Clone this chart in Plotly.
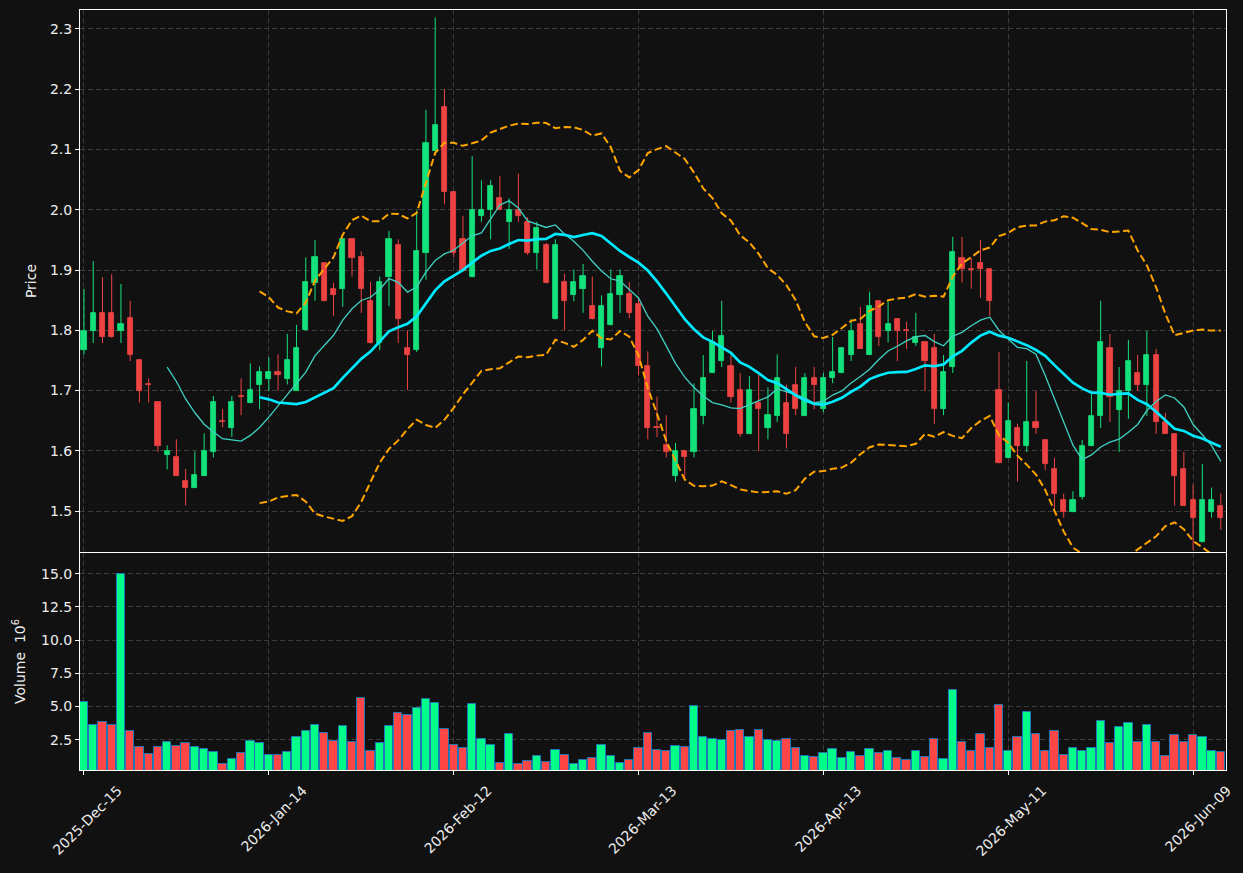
import plotly.graph_objects as go
import pandas as pd
import numpy as np

# ---------------- data ----------------
OPEN = [1.768, 1.799, 1.829, 1.829, 1.799, 1.820, 1.750, 1.711, 1.681, 1.593,
        1.589, 1.550, 1.539, 1.559, 1.598, 1.650, 1.638, 1.691, 1.680, 1.709,
        1.719, 1.731, 1.719, 1.700, 1.800, 1.878, 1.911, 1.869, 1.868, 1.951,
        1.921, 1.849, 1.779, 1.888, 1.941, 1.771, 1.768, 1.929, 2.098, 2.170,
        2.029, 1.951, 1.888, 1.990, 2.000, 2.020, 1.980, 2.000, 1.980, 1.929,
        1.941, 1.819, 1.880, 1.858, 1.868, 1.840, 1.770, 1.809, 1.858, 1.860,
        1.844, 1.740, 1.640, 1.609, 1.559, 1.599, 1.598, 1.658, 1.729, 1.749,
        1.740, 1.701, 1.628, 1.680, 1.638, 1.658, 1.680, 1.710, 1.658, 1.720,
        1.669, 1.720, 1.729, 1.759, 1.810, 1.759, 1.849, 1.799, 1.819, 1.801,
        1.779, 1.780, 1.770, 1.669, 1.739, 1.920, 1.902, 1.911, 1.901, 1.701,
        1.588, 1.638, 1.608, 1.648, 1.618, 1.569, 1.519, 1.498, 1.523, 1.608,
        1.658, 1.770, 1.668, 1.699, 1.729, 1.709, 1.759, 1.648, 1.628, 1.569,
        1.519, 1.448, 1.498, 1.509]
HIGH = [1.869, 1.915, 1.888, 1.893, 1.877, 1.849, 1.752, 1.720, 1.682, 1.609,
        1.619, 1.570, 1.599, 1.629, 1.691, 1.669, 1.691, 1.720, 1.745, 1.740,
        1.755, 1.760, 1.794, 1.809, 1.921, 1.950, 1.912, 1.879, 1.951, 1.952,
        1.931, 1.880, 1.889, 1.965, 1.951, 1.800, 1.999, 2.166, 2.319, 2.200,
        2.031, 1.990, 2.089, 2.049, 2.049, 2.056, 2.019, 2.060, 1.988, 1.980,
        1.945, 1.951, 1.894, 1.901, 1.910, 1.889, 1.858, 1.901, 1.901, 1.880,
        1.854, 1.765, 1.690, 1.659, 1.613, 1.600, 1.712, 1.759, 1.799, 1.849,
        1.759, 1.729, 1.724, 1.729, 1.705, 1.760, 1.710, 1.739, 1.729, 1.739,
        1.729, 1.789, 1.772, 1.819, 1.839, 1.864, 1.850, 1.849, 1.820, 1.814,
        1.829, 1.781, 1.794, 1.759, 1.955, 1.955, 1.920, 1.950, 1.902, 1.764,
        1.680, 1.645, 1.749, 1.699, 1.619, 1.588, 1.529, 1.533, 1.618, 1.694,
        1.849, 1.794, 1.739, 1.784, 1.759, 1.799, 1.769, 1.663, 1.629, 1.598,
        1.544, 1.578, 1.539, 1.529]
LOW = [1.760, 1.779, 1.779, 1.788, 1.779, 1.749, 1.680, 1.680, 1.598, 1.569,
       1.558, 1.509, 1.538, 1.558, 1.589, 1.639, 1.623, 1.659, 1.679, 1.669,
       1.699, 1.700, 1.710, 1.700, 1.799, 1.849, 1.848, 1.824, 1.839, 1.889,
       1.829, 1.778, 1.767, 1.840, 1.779, 1.701, 1.764, 1.884, 2.097, 2.009,
       1.921, 1.898, 1.888, 1.980, 1.951, 2.000, 1.935, 1.980, 1.925, 1.901,
       1.878, 1.818, 1.800, 1.848, 1.829, 1.818, 1.740, 1.808, 1.829, 1.820,
       1.725, 1.619, 1.623, 1.589, 1.549, 1.554, 1.589, 1.644, 1.729, 1.739,
       1.680, 1.623, 1.628, 1.599, 1.619, 1.648, 1.604, 1.659, 1.658, 1.669,
       1.664, 1.712, 1.729, 1.749, 1.769, 1.759, 1.774, 1.780, 1.749, 1.769,
       1.774, 1.699, 1.644, 1.659, 1.729, 1.879, 1.869, 1.854, 1.824, 1.579,
       1.588, 1.549, 1.598, 1.628, 1.568, 1.498, 1.489, 1.498, 1.519, 1.608,
       1.638, 1.648, 1.598, 1.653, 1.699, 1.658, 1.628, 1.628, 1.509, 1.509,
       1.435, 1.448, 1.489, 1.469]
CLOSE = [1.799, 1.829, 1.789, 1.789, 1.810, 1.759, 1.699, 1.709, 1.608, 1.599,
         1.559, 1.539, 1.560, 1.599, 1.681, 1.647, 1.681, 1.689, 1.701, 1.730,
         1.731, 1.725, 1.751, 1.771, 1.880, 1.921, 1.849, 1.858, 1.951, 1.920,
         1.868, 1.779, 1.880, 1.951, 1.819, 1.759, 1.931, 2.110, 2.141, 2.029,
         1.929, 1.899, 2.000, 2.000, 2.040, 2.000, 2.000, 1.990, 1.929, 1.970,
         1.878, 1.941, 1.848, 1.880, 1.890, 1.819, 1.840, 1.860, 1.890, 1.829,
         1.740, 1.638, 1.638, 1.598, 1.599, 1.589, 1.669, 1.720, 1.780, 1.790,
         1.690, 1.628, 1.701, 1.669, 1.659, 1.720, 1.628, 1.669, 1.720, 1.709,
         1.720, 1.730, 1.770, 1.799, 1.769, 1.840, 1.789, 1.810, 1.799, 1.799,
         1.789, 1.749, 1.669, 1.730, 1.930, 1.901, 1.900, 1.901, 1.849, 1.579,
         1.649, 1.608, 1.648, 1.638, 1.578, 1.528, 1.498, 1.519, 1.608, 1.658,
         1.780, 1.689, 1.699, 1.749, 1.709, 1.759, 1.648, 1.628, 1.558, 1.509,
         1.488, 1.519, 1.519, 1.488]
VOLUME = [5.36, 3.60, 3.86, 3.60, 15.0, 3.15, 1.97, 1.45, 1.97, 2.35,
          2.05, 2.27, 1.97, 1.82, 1.60, 0.69, 1.07, 1.52, 2.42, 2.27,
          1.37, 1.37, 1.60, 2.73, 3.15, 3.60, 3.03, 2.42, 3.55, 2.35,
          5.66, 1.67, 2.27, 3.55, 4.53, 4.38, 4.91, 5.59, 5.29, 3.33,
          2.12, 1.90, 5.19, 2.55, 2.10, 0.77, 2.95, 0.69, 0.92, 1.30,
          0.84, 1.75, 1.37, 0.69, 0.99, 1.14, 2.12, 1.30, 0.77, 0.99,
          1.90, 3.03, 1.75, 1.67, 2.05, 1.97, 5.06, 2.73, 2.58, 2.50,
          3.18, 3.25, 2.73, 3.25, 2.50, 2.42, 2.58, 1.90, 1.30, 1.22,
          1.52, 1.82, 1.14, 1.60, 1.30, 1.82, 1.52, 1.67, 1.14, 0.99,
          1.67, 1.22, 2.58, 1.07, 6.27, 2.35, 1.67, 2.95, 1.90, 5.14,
          1.67, 2.73, 4.61, 2.95, 1.67, 3.18, 1.37, 1.90, 1.67, 1.90,
          3.93, 2.27, 3.48, 3.78, 2.35, 3.63, 2.35, 1.30, 2.88, 2.35,
          2.88, 2.73, 1.67, 1.60]
TICK_POS = [0, 20, 40, 60, 80, 100, 120]
TICK_LABELS = ["2025-Dec-15", "2026-Jan-14", "2026-Feb-12", "2026-Mar-13",
               "2026-Apr-13", "2026-May-11", "2026-Jun-09"]

# ---------------- styling ----------------
BG = "#111111"
UP_C, DN_C = "#14e27c", "#ee4343"
VUP_C, VDN_C = "#00ff88", "#ff4646"
VEDGE = "#1f77b4"
GRID = "#3c3c3c"
TXT = "#eeeeee"
FONT = "DejaVu Sans"

n = len(CLOSE)
x = list(range(n))
df = pd.DataFrame({"o": OPEN, "h": HIGH, "l": LOW, "c": CLOSE, "v": VOLUME})
ma10 = df["c"].rolling(10).mean()
ma20 = df["c"].rolling(20).mean()
sd20 = df["c"].rolling(20).std(ddof=0)
bb_up = ma20 + 2 * sd20
bb_lo = ma20 - 2 * sd20

up = df["c"] >= df["o"]

fig = go.Figure()

# wicks
for mask, col in ((up, UP_C), (~up, DN_C)):
    wx, wy = [], []
    for i in np.where(mask)[0]:
        wx += [i, i, None]
        wy += [df["l"][i], df["h"][i], None]
    fig.add_trace(go.Scatter(x=wx, y=wy, mode="lines", line=dict(color=col, width=1),
                             showlegend=False, hoverinfo="skip", xaxis="x", yaxis="y"))

# bodies
for mask, col in ((up, UP_C), (~up, DN_C)):
    idx = np.where(mask)[0]
    base = np.minimum(df["o"].values[idx], df["c"].values[idx])
    hgt = np.abs(df["c"].values[idx] - df["o"].values[idx])
    fig.add_trace(go.Bar(x=idx, y=hgt, base=base, width=0.56,
                         marker=dict(color=col, line=dict(color=col, width=0.8)),
                         showlegend=False, xaxis="x", yaxis="y"))

# moving averages & bollinger
fig.add_trace(go.Scatter(x=x, y=ma10, mode="lines", line=dict(color="#3fd1c2", width=1.3),
                         showlegend=False, xaxis="x", yaxis="y"))
fig.add_trace(go.Scatter(x=x, y=ma20, mode="lines", line=dict(color="#00eaff", width=2.7),
                         showlegend=False, xaxis="x", yaxis="y"))
for band in (bb_up, bb_lo):
    fig.add_trace(go.Scatter(x=x, y=band, mode="lines",
                             line=dict(color="#ffa500", width=2, dash="7.5px,3.5px"),
                             showlegend=False, xaxis="x", yaxis="y"))

# volume
vcols = [VUP_C if u else VDN_C for u in up]
fig.add_trace(go.Bar(x=x, y=VOLUME, width=0.9,
                     marker=dict(color=vcols, line=dict(color=VEDGE, width=1)),
                     showlegend=False, xaxis="x2", yaxis="y2"))

axis_common = dict(showline=True, linecolor="white", linewidth=1, mirror=True,
                   showgrid=True, gridcolor=GRID, griddash="5px,3px", gridwidth=1,
                   zeroline=False, ticks="outside", tickcolor="white", ticklen=4,
                   tickfont=dict(family=FONT, size=14, color=TXT))

fig.update_layout(
    width=1243, height=873,
    paper_bgcolor=BG, plot_bgcolor=BG,
    margin=dict(l=80, r=17, t=10, b=103),
    barmode="overlay", bargap=0,
    showlegend=False,
    font=dict(family=FONT, color=TXT, size=14),
    xaxis=dict(domain=[0, 1], anchor="y", range=[-0.43, 123.56],
               tickmode="array", tickvals=TICK_POS,
               showticklabels=False, **axis_common),
    xaxis2=dict(domain=[0, 1], anchor="y2", matches="x", range=[-0.43, 123.56],
                tickmode="array", tickvals=TICK_POS, ticktext=TICK_LABELS,
                tickangle=-45, ticklabelshift=34, ticklabelstandoff=2, **axis_common),
    yaxis=dict(domain=[0.2868, 1], anchor="x", range=[1.432, 2.3315],
               tickmode="linear", tick0=1.5, dtick=0.1, tickformat=".1f",
               title=dict(text="Price", font=dict(family=FONT, size=14, color=TXT), standoff=10),
               **axis_common),
    yaxis2=dict(domain=[0, 0.2855], anchor="x2", range=[0.23, 16.55],
                tickmode="linear", tick0=2.5, dtick=2.5, tickformat=".1f",
                title=dict(text="Volume  10<sup>6</sup>", font=dict(family=FONT, size=14, color=TXT), standoff=12),
                **axis_common),
)

fig.write_html("out.html")
